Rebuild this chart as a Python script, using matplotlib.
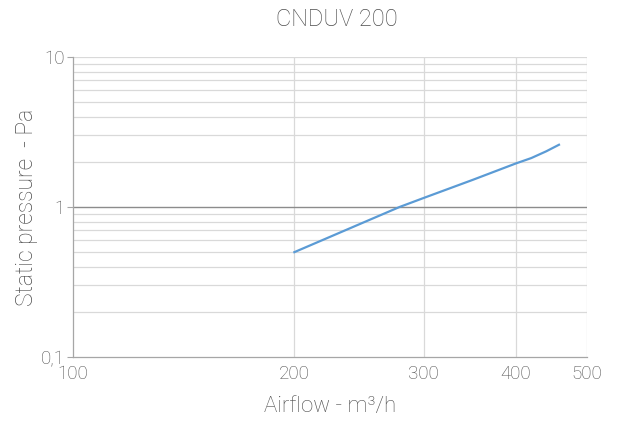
import matplotlib.pyplot as plt
from matplotlib.ticker import FixedLocator, NullFormatter

plt.rcParams['font.family'] = ['Roboto', 'DejaVu Sans']

airflow = [200, 250, 278, 300, 350, 400, 420, 440, 458]
pressure = [0.5, 0.8, 1.0, 1.15, 1.52, 1.95, 2.12, 2.35, 2.6]

xticks = [100, 200, 300, 400, 500]
yticks = [0.1, 1, 10]
ylabels = ['0,1', '1', '10']

fig = plt.figure(figsize=(6.21, 4.21), dpi=100)
ax = fig.add_axes([73/621, 1 - 357/421, 514/621, 300/421])
ax.set_xscale('log')
ax.set_yscale('log')
ax.set_xlim(100, 500)
ax.set_ylim(0.1, 10)

minor_y = [i * 0.1 for i in range(2, 10)] + list(range(2, 10))
for v in minor_y:
    ax.axhline(v, color='#d9d9d9', lw=0.9, zorder=1)
ax.axhline(10, color='#d9d9d9', lw=0.9, zorder=1)
ax.axhline(1, color='#8c8c8c', lw=1.0, zorder=2)
for v in [200, 300, 400, 500]:
    ax.axvline(v, color='#d9d9d9', lw=0.9, zorder=1)

ax.plot(airflow, pressure, color='#5b9bd5', lw=1.6, zorder=3)

ax.xaxis.set_major_locator(FixedLocator(xticks))
ax.xaxis.set_minor_locator(FixedLocator([]))
ax.set_xticklabels([str(t) for t in xticks])
ax.xaxis.set_minor_formatter(NullFormatter())
ax.yaxis.set_major_locator(FixedLocator(yticks))
ax.yaxis.set_minor_locator(FixedLocator([]))
ax.set_yticklabels(ylabels)
ax.yaxis.set_minor_formatter(NullFormatter())

for s in ['top', 'right']:
    ax.spines[s].set_visible(False)
for s in ['left', 'bottom']:
    ax.spines[s].set_color('#a6a6a6')
    ax.spines[s].set_linewidth(0.9)

txt = '#4d4d4d'
ax.tick_params(axis='x', length=0, pad=6, labelsize=13.5, colors=txt)
ax.tick_params(axis='y', length=4, width=0.8, color='#a6a6a6', pad=2, labelsize=13.5, labelcolor=txt)

ax.set_xlabel('Airflow - m³/h', fontsize=16, color=txt, fontweight='light', labelpad=9)
ax.set_ylabel('Static pressure  - Pa', fontsize=16.5, color=txt, fontweight='light', labelpad=0)
ax.yaxis.set_label_coords(-0.068, 0.5)
fig.text(0.543, 1 - 20/421, 'CNDUV 200', ha='center', va='center', fontsize=17, color=txt, fontweight='light')

for lbl in ax.get_xticklabels() + ax.get_yticklabels():
    lbl.set_fontweight('light')

fig.savefig('out.png', dpi=100)
